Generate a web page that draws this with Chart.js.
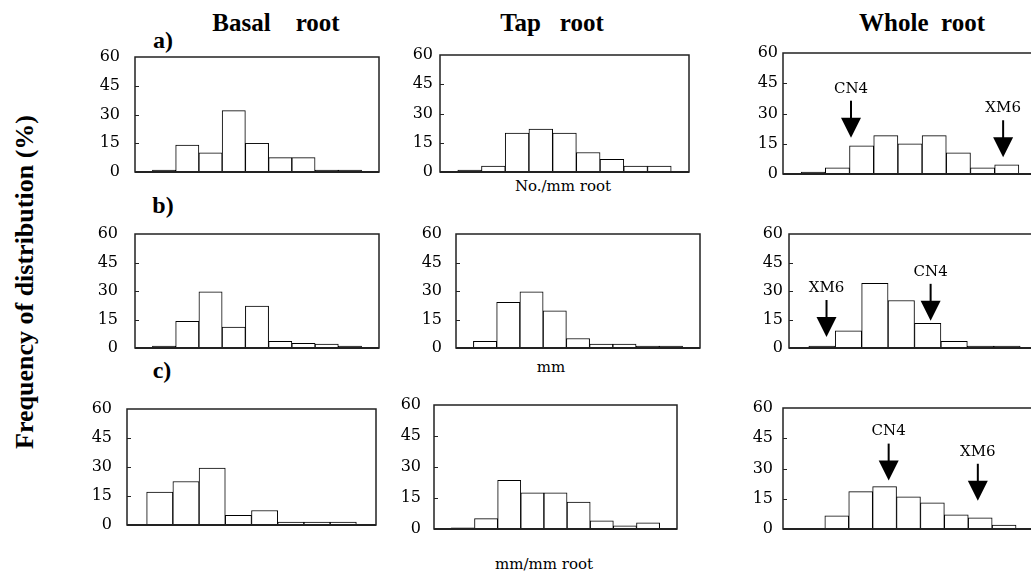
<!DOCTYPE html>
<html lang="en">
<head>
<meta charset="UTF-8">
<title>Root frequency distribution</title>
<script src="https://cdn.jsdelivr.net/npm/chart.js"></script>
<style>
    body { margin: 0; width: 1031px; height: 572px; overflow: hidden; background: #fff; position: relative; font-family: "Liberation Serif", serif; color: #000; }
    canvas { position: absolute; }
    .lbl { position: absolute; transform: translate(-50%, -50%); white-space: pre; }
    .title { font-weight: bold; font-size: 25px; }
    .row { font-weight: bold; font-size: 24px; }
    .unit { font-family: "DejaVu Serif", serif; font-size: 15px; }
    .ylab { font-weight: bold; font-size: 26px; transform: translate(-50%, -50%) rotate(-90deg); }
</style>
</head>
<body>

<div class="lbl title" style="left:276px; top:23px">Basal    root</div>
<div class="lbl title" style="left:552px; top:23px">Tap   root</div>
<div class="lbl title" style="left:922px; top:23px">Whole  root</div>
<div class="lbl row" style="left:163px; top:40px">a)</div>
<div class="lbl row" style="left:163px; top:205px">b)</div>
<div class="lbl row" style="left:162px; top:370px">c)</div>
<div class="lbl unit" style="left:563px; top:186px">No./mm root</div>
<div class="lbl unit" style="left:551px; top:367px">mm</div>
<div class="lbl unit" style="left:544px; top:564px">mm/mm root</div>
<div class="lbl ylab" style="left:25px; top:282px">Frequency of distribution (%)</div>

<script>
    // y ticks shared by every panel
    const yTicks = [0, 15, 30, 45, 60];

    // a) No./mm root
    const basalNo = [1, 14, 10, 32, 15, 7.5, 7.5, 1, 1];
    const tapNo = [1, 3, 20, 22, 20, 10, 6.5, 3, 3];
    const wholeNo = [1, 3, 14, 19, 15, 19, 10.5, 3, 4.5];

    // b) mm
    const basalLen = [1, 14, 29.5, 11, 22, 3.5, 2.5, 2, 1];
    const tapLen = [3.5, 24, 29.5, 19.5, 5, 2, 2, 1, 1];
    const wholeLen = [1, 9, 34, 25, 13, 3.5, 1, 1];

    // c) mm/mm root
    const basalRatio = [17, 22.5, 29.5, 5, 7.5, 1.5, 1.5, 1.5];
    const tapRatio = [0.6, 5, 23.5, 17.5, 17.5, 13, 4, 1.5, 3];
    const wholeRatio = [0, 6.5, 18.5, 21, 16, 13, 7, 5.5, 2];

    // cultivar markers on the whole root panels (bin position, value at arrow tip)
    const wholeNoMarks = [{ label: 'CN4', bin: 2.06, tip: 18 }, { label: 'XM6', bin: 8.35, tip: 8.3 }];
    const wholeLenMarks = [{ label: 'XM6', bin: 0.67, tip: 5.8 }, { label: 'CN4', bin: 4.61, tip: 14.3 }];
    const wholeRatioMarks = [{ label: 'CN4', bin: 3.67, tip: 24 }, { label: 'XM6', bin: 7.4, tip: 14 }];

    const panels = [
        { data: basalNo, left: 135, top: 57, w: 244, h: 115, gap: 15 },
        { data: tapNo, left: 440, top: 55, w: 249, h: 117, gap: 7 },
        { data: wholeNo, left: 783, top: 53, w: 254, h: 121, gap: 5, marks: wholeNoMarks },
        { data: basalLen, left: 135, top: 234, w: 244, h: 114, gap: 17 },
        { data: tapLen, left: 456, top: 234, w: 244, h: 114, gap: 14 },
        { data: wholeLen, left: 789, top: 234, w: 251, h: 114, gap: 6, marks: wholeLenMarks },
        { data: basalRatio, left: 127, top: 409, w: 249, h: 116, gap: 15 },
        { data: tapRatio, left: 434, top: 405, w: 243, h: 124, gap: 13 },
        { data: wholeRatio, left: 783, top: 408, w: 251, h: 121, gap: 10, marks: wholeRatioMarks }
    ];

    // frame around the plot area, with small inward ticks
    const boxPlugin = {
        id: 'box',
        afterDatasetsDraw(chart) {
            const { ctx, chartArea: a, scales: { y } } = chart;
            ctx.save();
            ctx.strokeStyle = '#222';
            ctx.lineWidth = 1.5;
            ctx.strokeRect(a.left, a.top, a.right - a.left, a.bottom - a.top);
            ctx.lineWidth = 2;
            ctx.beginPath();
            ctx.moveTo(a.left, a.bottom);
            ctx.lineTo(a.right, a.bottom);
            ctx.stroke();
            ctx.lineWidth = 1;
            y.ticks.forEach(t => {
                if (t.value === 0 || t.value === 60) return;
                const py = Math.round(y.getPixelForValue(t.value)) + 0.5;
                ctx.beginPath();
                ctx.moveTo(a.left, py);
                ctx.lineTo(a.left + 4, py);
                ctx.stroke();
            });
            ctx.restore();
        }
    };

    // arrows with cultivar names
    const arrowPlugin = {
        id: 'arrows',
        afterDraw(chart, args, opts) {
            const marks = opts.marks || [];
            const { ctx, scales: { x, y } } = chart;
            marks.forEach(m => {
                const px = x.getPixelForValue(m.bin);
                const tip = y.getPixelForValue(m.tip);
                ctx.save();
                ctx.fillStyle = '#000';
                ctx.strokeStyle = '#000';
                ctx.lineWidth = 2;
                ctx.beginPath();
                ctx.moveTo(px, tip - 37);
                ctx.lineTo(px, tip - 19);
                ctx.stroke();
                ctx.beginPath();
                ctx.moveTo(px - 10, tip - 20);
                ctx.lineTo(px + 10, tip - 20);
                ctx.lineTo(px, tip);
                ctx.closePath();
                ctx.fill();
                ctx.font = '15px "DejaVu Serif"';
                ctx.textAlign = 'center';
                ctx.textBaseline = 'middle';
                ctx.fillText(m.label, px, tip - 49);
                ctx.restore();
            });
        }
    };

    panels.forEach(p => {
        const cv = document.createElement('canvas');
        cv.width = p.w + 64;
        cv.height = p.h + 24;
        cv.style.left = (p.left - 60) + 'px';
        cv.style.top = (p.top - 12) + 'px';
        document.body.appendChild(cv);

        new Chart(cv.getContext('2d'), {
            type: 'bar',
            data: {
                datasets: [{
                    data: p.data.map((v, i) => ({ x: i + 0.5, y: v })),
                    backgroundColor: '#fff',
                    borderColor: '#000',
                    borderWidth: 1,
                    barPercentage: 1,
                    categoryPercentage: 1
                }]
            },
            options: {
                responsive: false,
                animation: false,
                layout: { padding: { top: 12, bottom: 12, left: 0, right: 4 } },
                plugins: {
                    legend: { display: false },
                    tooltip: { enabled: false },
                    arrows: { marks: p.marks }
                },
                scales: {
                    x: {
                        type: 'linear',
                        display: false,
                        offset: false,
                        min: -0.75,
                        max: p.data.length + 0.75
                    },
                    y: {
                        min: 0,
                        max: 60,
                        grid: { display: false, drawTicks: false },
                        border: { display: false },
                        afterBuildTicks: s => { s.ticks = yTicks.map(v => ({ value: v })); },
                        afterFit: s => {
                            s.width = 60;
                            s.paddingTop = 0;
                            s.paddingBottom = 0;
                        },
                        ticks: {
                            padding: p.gap,
                            color: '#000',
                            font: { family: 'DejaVu Serif', size: 16 }
                        }
                    }
                }
            },
            plugins: [boxPlugin, arrowPlugin]
        });
    });
</script>
</body>
</html>
